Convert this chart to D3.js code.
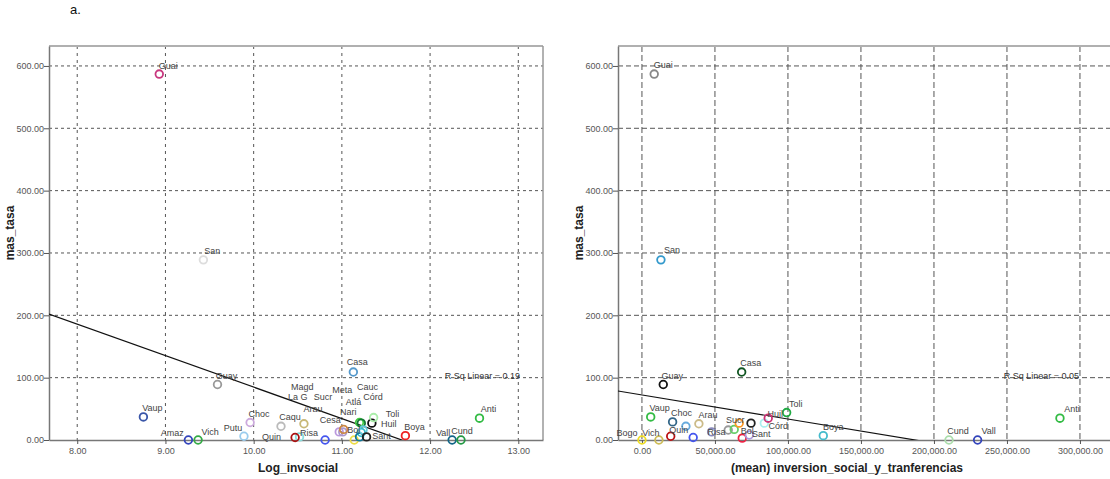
<!DOCTYPE html>
<html>
<head>
<meta charset="utf-8">
<script src="https://cdn.jsdelivr.net/npm/d3@7"></script>
<style>
  body { margin: 0; background: #fff; }
  svg { font-family: "Liberation Sans", Arial, sans-serif; }
</style>
</head>
<body>
<script>
// ---- data ----
let leftNames  = ['Guai','San','Guay','Vaup','Amaz','Vich','Putu','Choc','Caqu','Arau','Quin','Risa','Casa','Sucr','Cesa','La G','Bol','Magd','Atlá','Nari','Meta','Cauc','Córd','Sant','Huil','Toli','Boya','Vall','Cund','Anti'];
let leftX      = [8.93, 9.43, 9.59, 8.75, 9.26, 9.37, 9.89, 9.96, 10.31, 10.57, 10.52, 10.47, 11.13, 10.81, 10.97, 11.01, 11.02, 11.14, 11.20, 11.22, 11.22, 11.20, 11.24, 11.28, 11.34, 11.36, 11.72, 12.25, 12.35, 12.56];
let leftY      = [587, 289, 89, 37, 0, 0, 6, 28, 22, 26, 5, 4, 109, 0, 13, 13, 17, 0, 28, 27, 12, 5, 16, 5, 27, 36, 7, 0, 0, 35];

let rightNames = ['Guai','San','Guay','Casa','Vaup','Choc','Caqu','Arau','Quin','Putu','Bogo','Vich','Risa','Cald','Cesa','Sucr','Nort','Bol','Sant','Córd','Huil','Toli','Boya','Cund','Vall','Anti'];
let rightX     = [8400, 13000, 14600, 68300, 6000, 21000, 30100, 39000, 19700, 35100, 0, 11600, 47700, 59100, 63200, 66600, 74700, 68700, 73500, 83800, 86500, 99100, 124200, 210300, 229900, 286300];
let rightY     = [587, 289, 89, 109, 37, 29, 22, 26, 6, 4, 0, 0, 13, 16, 17, 27, 27, 3, 8, 27, 35, 44, 7, 0, 0, 35];
let rightHidden = ['Caqu','Putu','Cald','Cesa','Nort'];

let yTicks      = [0, 100, 200, 300, 400, 500, 600];
let leftXTicks  = [8, 9, 10, 11, 12, 13];
let rightXTicks = [0, 50000, 100000, 150000, 200000, 250000, 300000];

// linear fit (intercept, slope) and R²
let leftFit  = [589.8, -50.5],       leftR2 = 0.19;
let rightFit = [72.3, -0.0003864],   rightR2 = 0.05;

// ---- styles ----
let leftColors = ['#c8377e','#dddddd','#999999','#3a56a8','#3344bb','#33aa44','#99ccee','#ccaadd','#bbbbbb','#c8b878','#88dddd','#aa1111','#5599cc','#4455ee','#bb99dd','#aa99cc','#cc8844','#eedd44','#44cc44','#117733','#33bbcc','#117799','#66ccdd','#222222','#111111','#aaeeaa','#ee2222','#116688','#229944','#33bb44'];
let rightColors = ['#888888','#3399cc','#111111','#115522','#33bb44','#336688','#66aadd','#ccbb88','#bb1111','#4455ee','#eedd22','#ccbb55','#8888bb','#999999','#66cc66','#ff9922','#222222','#ee2244','#aa99dd','#aaeeee','#cc3377','#22aa44','#44bbcc','#aaddaa','#3344bb','#33bb44'];

let leftShift = {'Guai':[9,-8],'Casa':[4,-10],'Amaz':[-16,-7],'Vich':[12,-8],'Putu':[-11,-8],'Arau':[9,-15],
  'Risa':[14,-5],'Quin':[-28,0],'Sucr':[-2,-43],'Cesa':[-9,-12],'La G':[-45,-35],'Bol':[10,1],'Magd':[-52,-53],
  'Atlá':[-6,-21],'Nari':[-13,-11],'Meta':[-19,-43],'Cauc':[8,-50],'Córd':[10,-33],'Sant':[15,-1],
  'Huil':[17,1],'Toli':[19,-4],'Vall':[-9,-7],'Cund':[1,-9]};
let rightShift = {'San':[11,-10],'Bogo':[-15,-7],'Vich':[-8,-7],'Quin':[8,-6],'Risa':[5,0],'Sucr':[-4,-3],
  'Bol':[5,-7],'Sant':[12,-1],'Córd':[14,3],'Huil':[7,-4],'Boya':[10,-9],'Vall':[11,-9],'Anti':[12,-9]};

let W = 1110, H = 479;
let svg = d3.select('body').append('svg').attr('width', W).attr('height', H);

svg.append('text').text('a.').attr('x', 70).attr('y', 14)
   .style('font-size', '13px').attr('fill', '#111');

let drawPanel = (p) => {
  let x = d3.scaleLinear().domain(p.xDomain).range([p.left, p.right]);
  let y = d3.scaleLinear().domain([0, 632]).range([440, 46]);
  let g = svg.append('g');

  let clipId = 'clip' + p.id;
  g.append('clipPath').attr('id', clipId).append('rect')
    .attr('x', p.left).attr('y', 46).attr('width', p.right - p.left).attr('height', 394);

  // grid
  g.selectAll('.vg').data(p.xTicks).enter().append('line')
    .attr('x1', d => x(d)).attr('x2', d => x(d)).attr('y1', 46).attr('y2', 440)
    .attr('stroke', '#555').attr('stroke-width', 1).attr('stroke-dasharray', p.vDash);
  g.selectAll('.hg').data(yTicks.filter(d => d > 0)).enter().append('line')
    .attr('x1', p.left).attr('x2', p.right).attr('y1', d => y(d)).attr('y2', d => y(d))
    .attr('stroke', '#555').attr('stroke-width', 1).attr('stroke-dasharray', p.hDash);

  // frame
  g.append('line').attr('x1', p.left).attr('x2', p.right).attr('y1', 46).attr('y2', 46)
    .attr('stroke', '#b0b0b0').attr('stroke-width', 2);
  g.append('line').attr('x1', p.right).attr('x2', p.right).attr('y1', 46).attr('y2', 440)
    .attr('stroke', '#999').attr('stroke-width', 1.5);

  // axes
  let yAxis = g.append('g').attr('transform', `translate(${p.left},0)`)
    .call(d3.axisLeft(y).tickValues(yTicks).tickFormat(d3.format(',.2f')).tickSize(5).tickSizeOuter(0));
  let xAxis = g.append('g').attr('transform', 'translate(0,440)')
    .call(d3.axisBottom(x).tickValues(p.xTicks).tickFormat(d3.format(',.2f')).tickSize(4).tickSizeOuter(0));
  [xAxis, yAxis].forEach(a => {
    a.select('.domain').attr('stroke', '#777').attr('stroke-width', 1.5);
    a.selectAll('.tick line').attr('stroke', '#555');
    a.selectAll('.tick text').attr('fill', '#555').style('font-size', '9px');
  });
  yAxis.selectAll('.tick text').attr('x', -5);
  xAxis.selectAll('.tick text').attr('y', 8);

  // fit line
  let fx = x.domain();
  g.append('line').attr('clip-path', `url(#${clipId})`)
    .attr('x1', x(fx[0])).attr('y1', y(p.fit[0] + p.fit[1] * fx[0]))
    .attr('x2', x(fx[1])).attr('y2', y(p.fit[0] + p.fit[1] * fx[1]))
    .attr('stroke', '#111').attr('stroke-width', 1.2);

  g.append('text').text(`R Sq Linear = ${p.r2.toFixed(2)}`)
    .attr('x', p.r2x).attr('y', 379).attr('text-anchor', 'end')
    .style('font-size', '9px').attr('fill', '#333');

  // points
  let idx = p.names.map((n, i) => i);
  g.selectAll('circle.pt').data(idx).enter().append('circle')
    .attr('cx', i => x(p.xs[i])).attr('cy', i => y(p.ys[i])).attr('r', 3.8)
    .attr('fill', 'none').attr('stroke', i => p.colors[i]).attr('stroke-width', 1.8);

  // labels
  g.selectAll('text.lab').data(idx.filter(i => !p.hidden.includes(p.names[i]))).enter().append('text')
    .text(i => p.names[i])
    .attr('x', i => x(p.xs[i]) + (p.shift[p.names[i]] || [9, -9])[0])
    .attr('y', i => y(p.ys[i]) + (p.shift[p.names[i]] || [9, -9])[1] + 3)
    .attr('text-anchor', 'middle').style('font-size', '9px').attr('fill', '#444');

  // titles
  g.append('text').text(p.xTitle).attr('x', p.xTitleX).attr('y', 472)
    .attr('text-anchor', 'middle').style('font-size', '12px').style('font-weight', 'bold').attr('fill', '#222');
  g.append('text').text('mas_tasa')
    .attr('transform', `translate(${p.left - 35},233) rotate(-90)`)
    .attr('text-anchor', 'middle').style('font-size', '12px').style('font-weight', 'bold').attr('fill', '#222');
};

drawPanel({id: 'L', names: leftNames, xs: leftX, ys: leftY, colors: leftColors, shift: leftShift, hidden: [],
  xDomain: [7.68, 13.28], left: 49, right: 543, xTicks: leftXTicks, vDash: '3,4', hDash: '3,3',
  fit: leftFit, r2: leftR2, r2x: 520, xTitle: 'Log_invsocial', xTitleX: 298});

drawPanel({id: 'R', names: rightNames, xs: rightX, ys: rightY, colors: rightColors, shift: rightShift, hidden: rightHidden,
  xDomain: [-16400, 324000], left: 618, right: 1115, xTicks: rightXTicks, vDash: '6,3', hDash: '5,3',
  fit: rightFit, r2: rightR2, r2x: 1079, xTitle: '(mean) inversion_social_y_tranferencias', xTitleX: 847});
</script>
</body>
</html>
